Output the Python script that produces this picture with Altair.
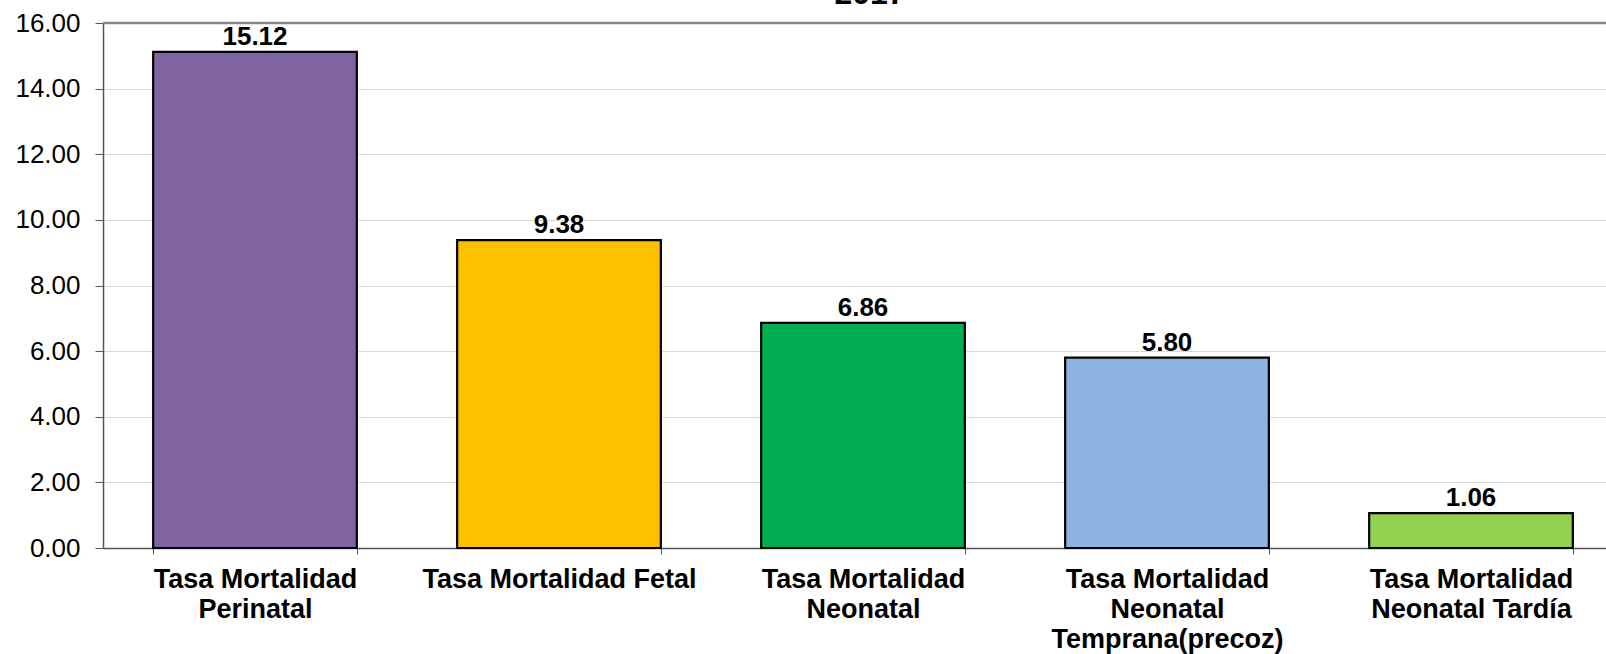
import altair as alt
import pandas as pd

categories = [
    "Tasa Mortalidad\nPerinatal",
    "Tasa Mortalidad Fetal",
    "Tasa Mortalidad\nNeonatal",
    "Tasa Mortalidad\nNeonatal\nTemprana(precoz)",
    "Tasa Mortalidad\nNeonatal Tardía",
]
values = [15.12, 9.38, 6.86, 5.80, 1.06]
colors = ["#8064A2", "#FFC000", "#00B050", "#8EB4E3", "#92D050"]
y_ticks = [0, 2, 4, 6, 8, 10, 12, 14, 16]
title_text = ["2017"]

df = pd.DataFrame({"cat": categories, "val": values, "color": colors})

FONT = "Liberation Sans"

xscale = alt.Scale(domain=categories, range=[0, 1520], paddingInner=0.33, paddingOuter=0.165)
yscale = alt.Scale(domain=[0, 16], nice=False)

x_enc = alt.X(
    "cat:N",
    scale=xscale,
    sort=categories,
    axis=alt.Axis(
        title=None,
        labelAngle=0,
        labelFont=FONT,
        labelFontSize=27,
        labelFontWeight="bold",
        labelColor="#000000",
        labelLineHeight=30,
        labelPadding=12,
        labelExpr="split(datum.label, '\\n')",
        labelLimit=400,
        tickBand="extent",
        tickSize=6,
        tickColor="#555555",
        domainColor="#555555",
        domainWidth=1.5,
        grid=False,
    ),
)

y_enc = alt.Y(
    "val:Q",
    scale=yscale,
    axis=alt.Axis(
        title=None,
        values=y_ticks,
        format=".2f",
        labelFont=FONT,
        labelFontSize=26,
        labelColor="#000000",
        labelPadding=15,
        tickSize=8,
        tickColor="#555555",
        domainColor="#555555",
        domainWidth=1.5,
        grid=True,
        gridColor="#d9d9d9",
        gridWidth=1,
    ),
)

bars = alt.Chart(df).mark_bar(stroke="#000000", strokeWidth=2.2).encode(
    x=x_enc,
    y=y_enc,
    color=alt.Color("color:N", scale=None, legend=None),
)

labels = alt.Chart(df).mark_text(
    font=FONT, fontSize=26, fontWeight="bold", color="#000000",
    baseline="alphabetic", align="center", dy=-7,
).encode(
    x=alt.X("cat:N", scale=xscale, sort=categories),
    y=alt.Y("val:Q", scale=yscale),
    text=alt.Text("val:Q", format=".2f"),
)

top_border = alt.Chart(pd.DataFrame({"y": [16]})).mark_rule(
    color="#888888", strokeWidth=2.5
).encode(y=alt.Y("y:Q", scale=yscale))

title = alt.Chart(pd.DataFrame({"t": title_text})).mark_text(
    font=FONT, fontSize=32, fontWeight="bold", color="#000000",
    baseline="alphabetic", align="center",
).encode(
    x=alt.value(767),
    y=alt.value(-19),
    text="t:N",
)

chart = alt.layer(bars, top_border, labels, title).properties(
    width=1503,
    height=525,
    autosize=alt.AutoSizeParams(type="none"),
    padding={"left": 103, "top": 23, "right": 0, "bottom": 106},
    background="#ffffff",
).configure_view(stroke=None)

chart.save("out.html", embed_options={"renderer": "svg", "actions": False})
